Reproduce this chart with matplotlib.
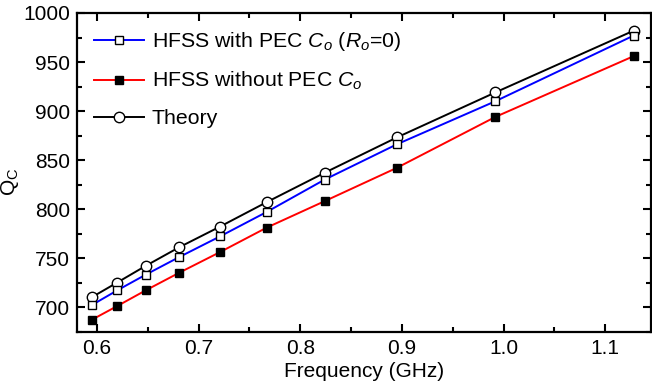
import matplotlib
matplotlib.use("Agg")
import matplotlib.pyplot as plt
from matplotlib.ticker import MultipleLocator

plt.rcParams['font.family'] = ['Liberation Sans', 'DejaVu Sans']
plt.rcParams['mathtext.fontset'] = 'custom'
plt.rcParams['mathtext.rm'] = 'Liberation Sans'
plt.rcParams['mathtext.it'] = 'Liberation Sans:italic'

freq = [0.595, 0.620, 0.648, 0.681, 0.721, 0.767, 0.824, 0.895, 0.992, 1.128]
hfss_pec = [702, 717, 733, 751, 772, 797, 830, 866, 910, 977]
hfss_nopec = [687, 701, 717, 735, 756, 781, 808, 842, 894, 956]
theory = [710, 725, 742, 761, 782, 807, 837, 873, 919, 982]

labels = [r'HFSS with PEC $C_o$ ($R_o$=0)', r'HFSS without PEC $C_o$', 'Theory']

fig = plt.figure(figsize=(6.52, 3.88), dpi=100)
ax = fig.add_axes([77/652, 1 - 332/388, (651 - 77)/652, (332 - 13)/388])

ax.plot(freq, hfss_pec, color='#0000ff', lw=1.4, marker='s', ms=6,
        mfc='white', mec='black', mew=1.0, label=labels[0], zorder=3)
ax.plot(freq, hfss_nopec, color='#ff0000', lw=1.4, marker='s', ms=6,
        mfc='black', mec='black', mew=1.0, label=labels[1], zorder=3)
ax.plot(freq, theory, color='black', lw=1.4, marker='o', ms=7.5,
        mfc='white', mec='black', mew=1.0, label=labels[2], zorder=2)

ax.set_xlim(0.5804, 1.145)
ax.set_ylim(674.5, 1000)
ax.xaxis.set_major_locator(MultipleLocator(0.1))
ax.xaxis.set_minor_locator(MultipleLocator(0.05))
ax.yaxis.set_major_locator(MultipleLocator(50))
ax.yaxis.set_minor_locator(MultipleLocator(25))
ax.set_xticks([0.6, 0.7, 0.8, 0.9, 1.0, 1.1])
ax.set_xticklabels(['0.6', '0.7', '0.8', '0.9', '1.0', '1.1'])

ax.tick_params(which='both', direction='in', top=True, right=True, width=1.5)
ax.tick_params(which='major', length=6, labelsize=15, pad=5)
ax.tick_params(which='minor', length=3.5)
for s in ax.spines.values():
    s.set_linewidth(1.6)

ax.set_xlabel('Frequency (GHz)', fontsize=15, labelpad=3)
ax.set_ylabel(r'Q$_\mathrm{C}$', fontsize=15)
ax.yaxis.set_label_coords(-0.097, 0.47)

leg = ax.legend(loc='upper left', frameon=False, fontsize=15.3,
                handlelength=2.35, handletextpad=0.35, labelspacing=0.79,
                borderaxespad=0.0, borderpad=0.0, bbox_to_anchor=(0.03, 0.946))

fig.savefig('out.png', dpi=100)
